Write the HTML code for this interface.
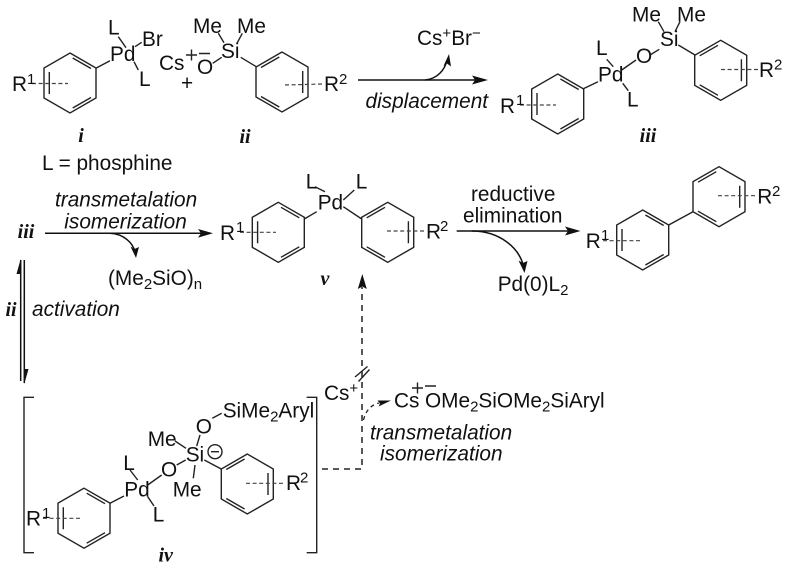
<!DOCTYPE html>
<html><head><meta charset="utf-8"><style>
html,body{margin:0;padding:0;background:#fff}
svg{display:block;filter:blur(.3px)}
text{font-family:"Liberation Sans",sans-serif;font-size:20.8px;fill:#111}
.it{font-style:italic}
.lb{font-family:"Liberation Serif",serif;font-style:italic;font-weight:bold;font-size:20px;text-anchor:middle}
.s{font-size:15px}
.bd{stroke:#222;stroke-width:1.4;fill:none}
.da{stroke:#444;stroke-width:1.2;stroke-dasharray:4 2.6;fill:none}
.ar{stroke:#111;stroke-width:1.5;fill:none}
.dd{stroke:#222;stroke-width:1.5;stroke-dasharray:6 5;fill:none}
.hd{fill:#111;stroke:none}
</style></head><body>
<svg width="789" height="569" viewBox="0 0 789 569" xmlns="http://www.w3.org/2000/svg">
<defs>
<g id="a" class="bd"><path d="M0,-30 L26,-15 L26,15 L0,30 L-26,15 L-26,-15Z M2.7,-25 L21,-14.5 M-20.7,-11 V11 M2.7,25 L21,14.5"/></g>
<g id="b" class="bd"><path d="M0,-30 L-26,-15 L-26,15 L0,30 L26,15 L26,-15Z M-2.7,-25 L-21,-14.5 M20.7,-11 V11 M-2.7,25 L-21,14.5"/></g>
</defs>

<!-- i -->
<use href="#a" x="70" y="83"/>
<path class="da" d="M32,83.5H68"/>
<path class="bd" d="M96.3,68L110,60.7M118.3,36.7L126,47.7M135,46.7L141.7,42.3M134,61.7L138.3,70"/>
<text x="12" y="91">R</text><text class="s" x="27" y="84">1</text>
<text x="110" y="61">Pd</text><text x="108" y="34.5">L</text><text x="142" y="46">Br</text><text x="139" y="86">L</text>
<text class="lb" x="81" y="142">i</text>
<text x="42" y="170">L = phosphine</text>

<!-- ii -->
<use href="#b" x="282" y="82"/>
<path class="da" d="M285,85L323,84"/>
<path class="bd" d="M212.7,63.3L221.7,57.3M218.3,33.3L224,42.7M242.3,33.3L237.3,42.7M240.7,57.3L256.3,66.7"/>
<text x="159" y="70">Cs</text>
<path class="bd" d="M186,55H197M191.5,49.5V60.5M199,53.5H210"/>
<text x="197" y="74">O</text><text x="221" y="58">Si</text>
<text x="193" y="33">Me</text><text x="237" y="33">Me</text>
<text x="181" y="90">+</text>
<text x="324" y="91">R</text><text class="s" x="339" y="84">2</text>
<text class="lb" x="245" y="143">ii</text>

<!-- arrow 1 -->
<path class="ar" d="M358,80H480"/><path class="hd" d="M488,80L472,75.5L475,80L472,84.5Z"/>
<path class="ar" d="M425,80C437,79 445,70 447,60"/><path class="hd" d="M449,54L443.5,66L447,63.5L451,66.5Z"/>
<text x="417" y="45">Cs<tspan class="s" dy="-7">+</tspan><tspan dy="7">Br</tspan><tspan class="s" dy="-7">−</tspan></text>
<text class="it" x="365.5" y="108">displacement</text>

<!-- iii -->
<use href="#a" x="557.7" y="104"/>
<use href="#b" x="720.7" y="70.3"/>
<path class="da" d="M520,105H556M721,69.5H759"/>
<path class="bd" d="M583.3,88.7L598,81.7M606.7,59.3L613.3,66.7M622.7,83.3L628.3,90.7M621.7,70L636,60M650,55L659.3,49.3M658.3,21.7L664,31.7M680,21.7L675,31.7M678.3,45L695,55"/>
<text x="500" y="113">R</text><text class="s" x="516" y="105">1</text>
<text x="598" y="81.7">Pd</text><text x="596" y="55">L</text><text x="627" y="106.7">L</text>
<text x="636" y="63">O</text><text x="660" y="46">Si</text>
<text x="632" y="21.7">Me</text><text x="677" y="21.7">Me</text>
<text x="759" y="77">R</text><text class="s" x="774" y="69.5">2</text>
<text class="lb" x="648" y="142">iii</text>

<!-- middle row -->
<text class="lb" x="26" y="238">iii</text>
<text class="it" x="55" y="206.7">transmetalation</text>
<text class="it" x="64.3" y="228.3">isomerization</text>
<path class="ar" d="M45,233.3H205"/><path class="hd" d="M213,233.3L198,229L201,233.3L198,237.6Z"/>
<path class="ar" d="M110,233.3C124,234 133,243 135,252"/><path class="hd" d="M136,258L130.5,246.5L134.5,249L139,247Z"/>
<text x="108" y="285">(Me<tspan class="s" dy="4">2</tspan><tspan dy="-4">SiO)</tspan><tspan class="s" dy="4">n</tspan></text>
<text class="lb" x="11" y="316">ii</text>
<text class="it" x="32" y="316">activation</text>
<path class="ar" d="M20.7,260V381M24.3,260V383"/>
<path class="hd" d="M20.7,259L20.7,274L16.5,274Z"/>
<path class="hd" d="M24.3,384L24.3,369L28.5,369Z"/>

<!-- v -->
<use href="#a" x="278.3" y="232.3"/>
<use href="#b" x="387.7" y="232.3"/>
<path class="da" d="M240,232.3H276M387,231H425"/>
<path class="bd" d="M304.3,219L316.7,211.7M315,186.7L325,191.7M343.3,200L354.3,190M343.3,206.7L361.7,219"/>
<text x="220" y="240">R</text><text class="s" x="236" y="232">1</text>
<text x="317.7" y="209.3">Pd</text><text x="305.7" y="188.3">L</text><text x="355.7" y="188.3">L</text>
<text x="426" y="238.5">R</text><text class="s" x="440" y="231">2</text>
<text class="lb" x="325" y="285">v</text>

<!-- arrow to product -->
<text x="471" y="201">reductive</text>
<text x="463" y="222.3">elimination</text>
<path class="ar" d="M456.7,231H572"/><path class="hd" d="M580.5,231L565,226.5L568,231L565,235.5Z"/>
<path class="ar" d="M471.7,231C500,231 519,248 523.5,266"/><path class="hd" d="M524.5,273L518.5,260.5L523,263L527.5,261Z"/>
<text x="497.7" y="291">Pd(0)L<tspan class="s" dy="4">2</tspan></text>

<!-- product -->
<use href="#a" x="642.7" y="240"/>
<use href="#b" x="719" y="196.7"/>
<path class="da" d="M603,240.7H640M718,195.7H757"/>
<path class="bd" d="M668.7,225L693,211.7"/>
<text x="585.7" y="248">R</text><text class="s" x="601" y="240">1</text>
<text x="757.3" y="203.5">R</text><text class="s" x="772" y="196">2</text>

<!-- iv -->
<path class="bd" d="M34,397.3H24V552.7H34M306.7,397.3H316.7V552.7H306.7"/>
<use href="#a" x="84" y="518.2"/>
<use href="#b" x="247.3" y="484"/>
<path class="da" d="M43,518.3H81.7M246,483.3H285"/>
<path class="bd" d="M212.3,418.3L221.7,413.3M200,435L196.7,446M175,441L186,448.3M176.7,465L185.7,460M195,465L193.3,478.3M204.3,460L221.7,469.3M147.7,485L161.7,475M130,470L137.7,480M147.7,496.7L154,506M110,503.3L124,496"/>
<text x="222.7" y="417.3">SiMe<tspan class="s" dy="4">2</tspan><tspan dy="-4">Aryl</tspan></text>
<text x="195.7" y="433.3">O</text>
<text x="147.7" y="446">Me</text>
<text x="185.7" y="461.7">Si</text>
<circle class="bd" cx="215" cy="451.7" r="7"/><path class="bd" d="M211,451.7H219"/>
<text x="161" y="476.7">O</text>
<text x="172.7" y="496.7">Me</text>
<text x="124.3" y="496.7">Pd</text>
<text x="123.3" y="470">L</text>
<text x="152.7" y="521.7">L</text>
<text x="26" y="525.7">R</text><text class="s" x="42" y="518">1</text>
<text x="286" y="490">R</text><text class="s" x="300" y="482.5">2</text>
<text class="lb" x="165.7" y="561.7">iv</text>

<!-- dashed -->
<path class="dd" d="M322,469H362V287"/>
<path class="hd" d="M362.3,274L357.8,289L362.3,286.5L366.8,289Z"/>
<path class="bd" d="M355,377L367.5,366.5M358.5,381.5L369.5,369.5"/>
<text x="324" y="400">Cs<tspan class="s" dy="-7">+</tspan></text>
<path class="dd" style="stroke-width:1.3;stroke-dasharray:4 3.5" d="M363.5,420C366,410 371,405 379,403"/>
<path class="hd" d="M391,400.5L377.5,400.5L380,403.5L378.5,406.5Z"/>
<text x="394" y="407.7">Cs</text>
<path class="bd" d="M412,388H423M417.5,382.5V393.5M425,386H436"/>
<text x="425" y="407.7">OMe<tspan class="s" dy="4">2</tspan><tspan dy="-4">SiOMe</tspan><tspan class="s" dy="4">2</tspan><tspan dy="-4">SiAryl</tspan></text>
<text class="it" x="370" y="439.3">transmetalation</text>
<text class="it" x="380" y="460.7">isomerization</text>
</svg>
</body></html>
